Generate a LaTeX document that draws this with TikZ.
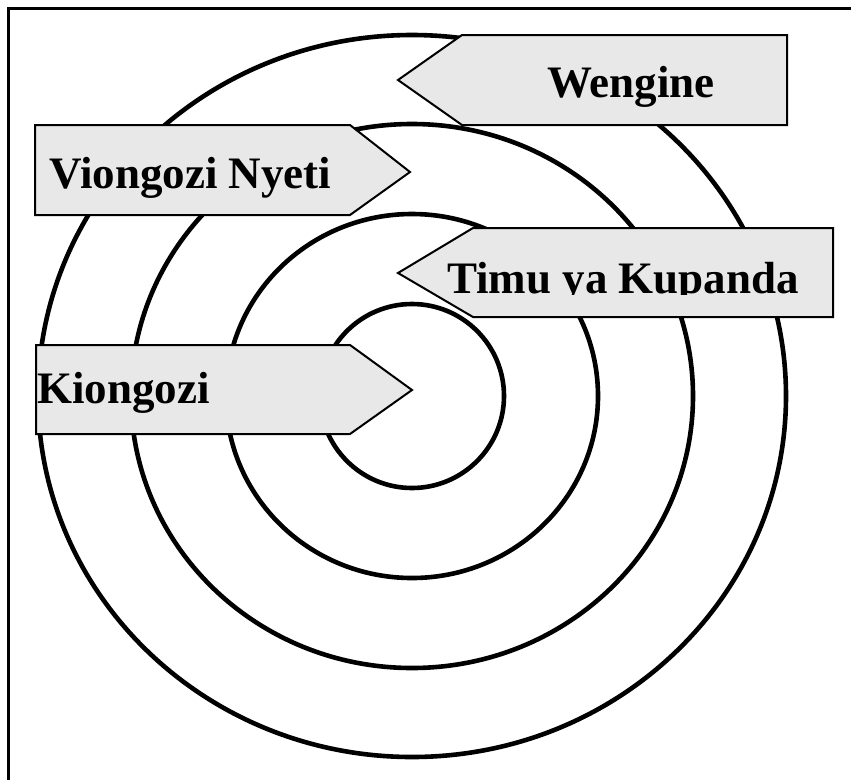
\documentclass[tikz,border=0pt]{standalone}
\usepackage{fontspec}
\setmainfont{Liberation Serif}
\definecolor{bannergray}{RGB}{232,232,232}
\tikzset{
    ring/.style={line width=4.6pt},
    banner/.style={draw=black, line width=2pt, fill=bannergray, line join=miter},
    bannertext/.style={anchor=base west, inner sep=0pt, font=\fontsize{45}{52}\selectfont\bfseries},
}
\begin{document}
\begin{tikzpicture}[x=1pt,y=-1pt]
    \useasboundingbox (0,0) rectangle (851,780);
    %% frame
    \draw[line width=3pt] (8,780) -- (8,8) -- (851,8);
    %% rings
    \coordinate (O) at (412,396);
    \foreach \rx/\ry in {374/361,281/272,186/182,92/92}
        \draw[ring] (O) ellipse ({\rx pt} and {\ry pt});
    %% banners
    \draw[banner] (398,80) -- (462,35) -- (787,35) -- (787,125) -- (462,125) -- cycle;
    \node[bannertext] (wengine) at (547,97) {Wengine};
    \draw[banner] (35,125) -- (350,125) -- (410,172) -- (350,215) -- (35,215) -- cycle;
    \node[bannertext] (nyeti) at (49,188) {Viongozi Nyeti};
    \draw[banner] (398,273) -- (473,228) -- (833,228) -- (833,317) -- (473,317) -- cycle;
    \begin{scope}
        \clip (440,230) rectangle (830,294.5);
        \node[bannertext] (timu) at (447,293) {Timu ya Kupanda};
    \end{scope}
    \draw[banner] (36,345) -- (350,345) -- (412,390) -- (350,434) -- (36,434) -- cycle;
    \node[bannertext] (kiongozi) at (37,403) {Kiongozi};
\end{tikzpicture}
\end{document}
